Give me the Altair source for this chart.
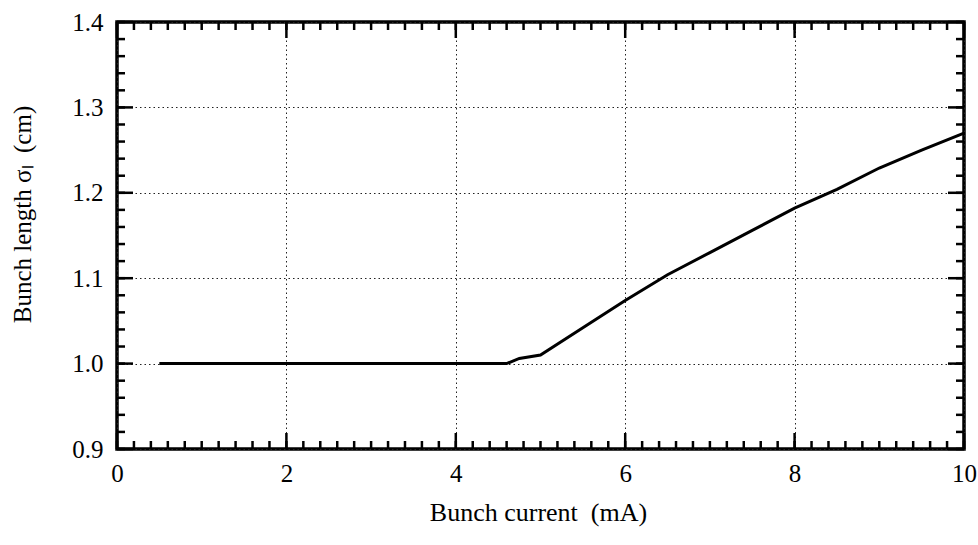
import altair as alt
import pandas as pd

# Bunch length vs. bunch current
current_mA = [0.5, 1.0, 2.0, 3.0, 4.0, 4.6, 4.75, 5.0, 5.5, 6.0, 6.5, 7.0, 7.5, 8.0, 8.5, 9.0, 9.5, 10.0]
sigma_cm = [1.0, 1.0, 1.0, 1.0, 1.0, 1.0, 1.006, 1.01, 1.042, 1.074, 1.104, 1.13, 1.156, 1.182, 1.204, 1.229, 1.25, 1.27]

x_major = [0, 2, 4, 6, 8, 10]
y_major = [0.9, 1.0, 1.1, 1.2, 1.3, 1.4]
x_minor = [round(i * 0.2, 2) for i in range(51)]
y_minor = [round(0.9 + i * 0.02, 2) for i in range(26)]

W, H = 847, 427
FONT = "Liberation Serif"

curve = pd.DataFrame({"I": current_mA, "s": sigma_cm})
xs = alt.Scale(domain=[0, 10], nice=False, zero=False)
ys = alt.Scale(domain=[0.9, 1.4], nice=False, zero=False)

x_axis = alt.Axis(title="Bunch current\u00a0\u00a0(mA)", values=x_major, format="d",
                  grid=True, gridDash=[1.5, 3], gridColor="#222", gridWidth=1,
                  ticks=False, domain=False, labelPadding=12, labelFontSize=25,
                  labelFlush=False,
                  titleFontSize=26, titleY=63, titleBaseline="middle", titleAlign="center",
                  titleX=421)
y_axis = alt.Axis(title="Bunch length σₗ\u00a0\u00a0(cm)", values=y_major, format=".1f",
                  grid=True, gridDash=[1.5, 3], gridColor="#222", gridWidth=1,
                  ticks=False, domain=False, labelPadding=14, labelFontSize=25,
                  labelFlush=False,
                  titleFontSize=25, titleAngle=270, titleX=-95, titleY=192,
                  titleBaseline="middle", titleAlign="center")

line = alt.Chart(curve).mark_line(color="black", strokeWidth=3).encode(
    x=alt.X("I:Q", scale=xs, axis=x_axis),
    y=alt.Y("s:Q", scale=ys, axis=y_axis),
)

def xticks(vals, length):
    d = pd.DataFrame({"t": vals})
    base = alt.Chart(d).mark_rule(color="black", strokeWidth=2.5)
    bottom = base.encode(x=alt.X("t:Q", scale=xs, axis=x_axis), y=alt.value(H), y2=alt.value(H - length))
    top = base.encode(x=alt.X("t:Q", scale=xs, axis=x_axis), y=alt.value(0), y2=alt.value(length))
    return [bottom, top]

def yticks(vals, length):
    d = pd.DataFrame({"t": vals})
    base = alt.Chart(d).mark_rule(color="black", strokeWidth=2.5)
    left = base.encode(y=alt.Y("t:Q", scale=ys, axis=y_axis), x=alt.value(0), x2=alt.value(length))
    right = base.encode(y=alt.Y("t:Q", scale=ys, axis=y_axis), x=alt.value(W), x2=alt.value(W - length))
    return [left, right]

layers = [line] + xticks(x_minor, 8) + xticks(x_major, 16) + yticks(y_minor, 8) + yticks(y_major, 16)

chart = alt.layer(*layers).properties(
    width=W, height=H,
    autosize=alt.AutoSizeParams(type="none"),
    padding={"left": 117, "top": 22, "right": 14, "bottom": 96},
    background="white",
).configure_view(
    stroke="black", strokeWidth=3.5
).configure_axis(
    labelFont=FONT, titleFont=FONT,
    labelColor="black", titleColor="black", titleFontWeight="normal",
)

chart.save("out.html", embed_options={"renderer": "svg", "actions": False})
